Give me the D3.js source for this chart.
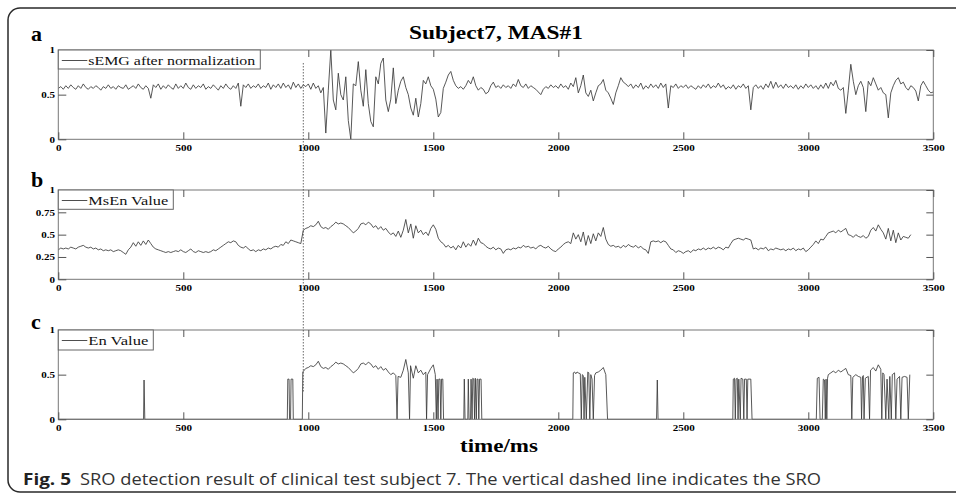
<!DOCTYPE html>
<html><head><meta charset="utf-8">
<script src="https://cdn.jsdelivr.net/npm/d3@7"></script>
<style>body{margin:0;background:#fff}svg{display:block}</style>
</head><body>
<svg id="c" width="956" height="494"></svg>
<script>
// ---------------- data ----------------
const semgStep = 10; // ms between samples
const semgValues = [
0.57,0.59,0.56,0.60,0.57,0.61,0.58,0.56,0.60,0.57,
0.62,0.58,0.56,0.59,0.57,0.60,0.58,0.55,0.59,0.57,
0.61,0.57,0.59,0.56,0.60,0.58,0.57,0.61,0.56,0.58,
0.60,0.57,0.62,0.58,0.56,0.60,0.57,0.46,0.61,0.58,
0.62,0.56,0.60,0.57,0.61,0.58,0.56,0.62,0.57,0.60,
0.57,0.63,0.58,0.56,0.61,0.57,0.60,0.58,0.62,0.56,
0.59,0.57,0.61,0.58,0.55,0.60,0.57,0.62,0.58,0.56,
0.60,0.57,0.63,0.37,0.61,0.58,0.62,0.57,0.60,0.58,
0.62,0.57,0.60,0.58,0.63,0.56,0.61,0.58,0.62,0.57,
0.63,0.58,0.61,0.56,0.64,0.58,0.62,0.57,0.61,0.59,
0.62,0.56,0.63,0.57,0.60,0.52,0.58,0.07,0.55,1.00,
0.44,0.33,0.74,0.50,0.44,0.70,0.21,0.00,0.62,0.60,
0.87,0.55,0.37,0.78,0.40,0.20,0.14,0.70,0.62,0.85,
0.91,0.44,0.31,0.45,0.80,0.40,0.55,0.65,0.70,0.58,
0.50,0.35,0.27,0.46,0.25,0.40,0.66,0.62,0.70,0.60,
0.56,0.45,0.25,0.30,0.57,0.64,0.72,0.76,0.66,0.60,
0.57,0.59,0.56,0.60,0.66,0.62,0.70,0.60,0.55,0.58,
0.56,0.51,0.53,0.60,0.64,0.58,0.60,0.57,0.61,0.58,
0.60,0.57,0.62,0.59,0.67,0.60,0.58,0.62,0.57,0.60,
0.58,0.56,0.53,0.50,0.56,0.59,0.57,0.61,0.58,0.60,
0.57,0.62,0.58,0.60,0.56,0.63,0.59,0.69,0.52,0.60,
0.72,0.52,0.48,0.55,0.43,0.52,0.60,0.62,0.67,0.55,
0.52,0.46,0.39,0.52,0.60,0.69,0.64,0.62,0.59,0.62,
0.57,0.61,0.58,0.63,0.56,0.60,0.57,0.62,0.58,0.61,
0.57,0.63,0.58,0.62,0.35,0.60,0.58,0.62,0.57,0.60,
0.58,0.61,0.57,0.60,0.58,0.56,0.60,0.57,0.61,0.58,
0.62,0.57,0.60,0.58,0.63,0.58,0.61,0.56,0.59,0.57,
0.61,0.56,0.60,0.58,0.62,0.57,0.60,0.33,0.58,0.61,
0.57,0.60,0.56,0.62,0.58,0.65,0.57,0.64,0.58,0.61,
0.57,0.62,0.58,0.60,0.57,0.61,0.56,0.60,0.57,0.62,
0.58,0.61,0.57,0.60,0.56,0.61,0.57,0.63,0.57,0.64,
0.60,0.66,0.57,0.55,0.58,0.29,0.55,0.84,0.65,0.50,
0.60,0.65,0.58,0.31,0.65,0.60,0.69,0.62,0.55,0.58,
0.52,0.50,0.24,0.52,0.60,0.66,0.69,0.62,0.64,0.58,
0.55,0.60,0.58,0.54,0.43,0.60,0.65,0.60,0.55,0.52,
0.53
];

const msenStep = 10;
const msenValues = [
0.33,0.35,0.34,0.35,0.34,0.36,0.35,0.34,0.36,0.37,
0.38,0.36,0.35,0.36,0.34,0.35,0.33,0.34,0.32,0.33,
0.32,0.33,0.31,0.32,0.33,0.32,0.30,0.28,0.33,0.36,
0.41,0.37,0.42,0.38,0.43,0.39,0.44,0.40,0.36,0.34,
0.33,0.32,0.31,0.30,0.31,0.30,0.31,0.32,0.31,0.33,
0.31,0.30,0.32,0.34,0.31,0.30,0.32,0.31,0.30,0.31,
0.30,0.31,0.33,0.32,0.34,0.36,0.38,0.40,0.42,0.41,
0.43,0.42,0.38,0.36,0.35,0.37,0.34,0.32,0.33,0.31,
0.33,0.32,0.34,0.33,0.35,0.34,0.36,0.37,0.36,0.39,
0.38,0.42,0.40,0.44,0.43,0.42,0.41,0.40,0.55,0.57,
0.58,0.60,0.59,0.61,0.65,0.59,0.57,0.58,0.56,0.59,
0.61,0.64,0.62,0.63,0.62,0.60,0.58,0.55,0.52,0.54,
0.57,0.62,0.63,0.61,0.64,0.62,0.58,0.60,0.56,0.59,
0.55,0.57,0.53,0.50,0.52,0.48,0.54,0.47,0.55,0.67,
0.52,0.62,0.46,0.60,0.52,0.55,0.50,0.53,0.49,0.57,
0.61,0.56,0.46,0.42,0.40,0.36,0.38,0.35,0.37,0.33,
0.38,0.35,0.42,0.36,0.40,0.37,0.44,0.38,0.46,0.41,
0.40,0.37,0.35,0.34,0.36,0.33,0.35,0.34,0.29,0.33,
0.34,0.33,0.35,0.34,0.36,0.35,0.38,0.36,0.37,0.35,
0.36,0.34,0.37,0.38,0.36,0.35,0.37,0.34,0.32,0.31,
0.34,0.36,0.39,0.41,0.42,0.40,0.52,0.45,0.50,0.42,
0.53,0.38,0.49,0.40,0.51,0.43,0.52,0.48,0.58,0.45,
0.39,0.37,0.38,0.36,0.37,0.35,0.38,0.36,0.39,0.37,
0.36,0.38,0.35,0.37,0.34,0.33,0.29,0.42,0.43,0.42,
0.43,0.41,0.43,0.42,0.38,0.34,0.33,0.30,0.32,0.31,
0.29,0.31,0.32,0.30,0.33,0.32,0.34,0.33,0.35,0.33,
0.35,0.34,0.36,0.34,0.36,0.35,0.33,0.36,0.35,0.40,
0.44,0.45,0.46,0.45,0.44,0.46,0.45,0.44,0.34,0.35,
0.33,0.35,0.34,0.36,0.32,0.34,0.33,0.35,0.34,0.33,
0.34,0.32,0.34,0.33,0.35,0.32,0.34,0.33,0.35,0.31,
0.33,0.36,0.39,0.43,0.40,0.45,0.44,0.48,0.52,0.53,
0.54,0.52,0.55,0.53,0.55,0.57,0.50,0.49,0.47,0.50,
0.48,0.47,0.49,0.46,0.48,0.55,0.58,0.54,0.61,0.56,
0.52,0.45,0.57,0.43,0.55,0.41,0.52,0.44,0.48,0.47,
0.46,0.50
];

// En value: [time ms, value] read at change points
const enPoints = [
[0,0],[341,0],[343,0.44],[346,0],
[916,0],[918,0.45],[923,0.45],[925,0],[929,0],[931,0.45],[938,0.45],[940,0],
[976,0],[978,0.53],[990,0.57],[1000,0.58],[1010,0.60],[1020,0.59],[1030,0.61],[1040,0.65],
[1050,0.59],[1060,0.57],[1070,0.58],[1080,0.56],[1090,0.59],[1100,0.61],[1110,0.64],[1120,0.62],
[1130,0.63],[1140,0.62],[1150,0.60],[1160,0.58],[1170,0.55],[1180,0.52],[1190,0.54],[1200,0.57],
[1210,0.62],[1220,0.63],[1230,0.61],[1240,0.64],[1250,0.62],[1260,0.58],[1270,0.60],[1280,0.56],
[1290,0.59],[1300,0.55],[1310,0.57],[1320,0.53],[1330,0.50],[1340,0.52],[1350,0.49],[1355,0],
[1359,0.48],[1370,0.47],[1380,0.55],[1390,0.67],[1400,0.52],[1405,0],[1409,0.60],[1420,0.46],
[1430,0.60],[1440,0.52],[1450,0.55],[1460,0.50],[1470,0.53],[1473,0],[1477,0.50],[1490,0.57],
[1500,0.61],[1508,0.50],[1512,0],[1515,0.45],[1519,0],[1522,0.45],[1527,0.45],[1530,0],
[1533,0.45],[1538,0.45],[1541,0],
[1622,0],[1624,0.45],[1627,0],[1638,0],[1640,0.45],[1643,0],[1649,0],[1651,0.45],[1655,0],
[1658,0.46],[1662,0.45],[1665,0],[1668,0.46],[1672,0],[1675,0.45],[1679,0.45],[1682,0],
[1685,0.45],[1691,0.45],[1694,0],
[2058,0],[2060,0.52],[2065,0.53],[2070,0.51],[2075,0.53],[2080,0.52],[2088,0.51],[2092,0],
[2096,0.50],[2100,0.49],[2103,0],[2106,0.47],[2112,0],[2118,0.53],[2122,0.52],[2126,0],
[2130,0.50],[2135,0.45],[2140,0],[2145,0.49],[2150,0.52],[2160,0.53],[2170,0.55],[2180,0.58],
[2190,0.50],[2197,0],
[2393,0],[2396,0.44],[2399,0],
[2698,0],[2700,0.45],[2705,0.46],[2708,0],[2711,0.45],[2716,0.46],[2719,0],[2722,0.45],
[2728,0],[2731,0.46],[2738,0.45],[2742,0],[2745,0.45],[2752,0.45],[2755,0],[2758,0.45],
[2770,0.45],[2775,0],
[3032,0],[3036,0.46],[3043,0.47],[3047,0],
[3056,0],[3060,0.45],[3065,0.44],[3068,0],[3071,0.45],[3074,0],[3077,0.46],[3080,0.50],
[3090,0.52],[3100,0.54],[3110,0.52],[3120,0.55],[3130,0.53],[3140,0.55],[3150,0.57],[3160,0.50],
[3170,0.49],[3174,0],[3178,0.47],[3190,0.50],[3200,0.48],[3210,0.47],[3213,0],[3217,0.48],
[3220,0.49],[3223,0],[3228,0.46],[3240,0.48],[3245,0],[3249,0.55],[3260,0.58],[3270,0.54],
[3280,0.61],[3290,0.56],[3294,0],[3298,0.52],[3303,0.50],[3310,0],[3315,0.45],[3322,0],
[3326,0.48],[3332,0],[3336,0.50],[3345,0.52],[3350,0],[3355,0.45],[3365,0.48],[3370,0],
[3375,0.47],[3385,0.48],[3395,0.47],[3400,0],[3406,0.50]
];

const xTicks = [0,500,1000,1500,2000,2500,3000,3500];
const yTicksA = [0,0.5,1];
const yTicksB = [0,0.25,0.5,0.75,1];
const yTicksC = [0,0.5,1];
const sroTime = 980;

const titleText = "Subject7, MAS#1";
const xLabelText = "time/ms";
const captionBold = "Fig. 5";
const captionText = "SRO detection result of clinical test subject 7. The vertical dashed line indicates the SRO";

// ---------------- drawing ----------------
const svg = d3.select("#c");
const X0 = 58.3, X1 = 933.3;
const stretch = 1.23;
const serif = "'Liberation Serif','Times New Roman',serif";
const x = d3.scaleLinear().domain([0, 3500]).range([X0, X1]);

svg.append("rect").attr("width",956).attr("height",494).attr("fill","#fff");
svg.append("path")
  .attr("d","M957,8H20A12,12 0 0 0 8,20V480A12,12 0 0 0 20,492H957")
  .attr("fill","none").attr("stroke","#2a2a2a").attr("stroke-width",1.5);

const semgData = semgValues.map((v,i)=>[i*semgStep, v]);
const msenData = msenValues.map((v,i)=>[i*msenStep, v]);

const panels = [
  {key:"a", top:50,  bottom:139.3, yTicks:yTicksA, legend:"sEMG after normalization", legendW:202, legendH:19, legendLen:167, letterY:41, data:semgData, fmt:d3.format("")},
  {key:"b", top:190, bottom:279.3, yTicks:yTicksB, legend:"MsEn Value", legendW:115, legendH:19.3, legendLen:80, letterY:187, data:msenData, fmt:d3.format("")},
  {key:"c", top:330, bottom:419.3, yTicks:yTicksC, legend:"En Value", legendW:95, legendH:20, legendLen:60, letterY:328.5, data:enPoints, fmt:d3.format("")}
];

function styleTicks(sel){
  sel.select(".domain").remove();
  sel.selectAll(".tick line").attr("stroke","#555").attr("stroke-width",1);
  sel.selectAll(".tick text").attr("fill","#000")
    .style("font-family",serif).style("font-weight","bold").style("font-size","9px");
}

panels.forEach(p=>{
  const y = d3.scaleLinear().domain([0,1]).range([p.bottom, p.top]);
  const g = svg.append("g");

  g.append("path").datum(p.data)
    .attr("fill","none").attr("stroke","#3a3a3a").attr("stroke-width",0.85)
    .attr("stroke-linejoin","round")
    .attr("d", d3.line().x(d=>x(d[0])).y(d=>y(d[1])));

  g.append("rect").attr("x",X0).attr("y",p.top).attr("width",X1-X0).attr("height",p.bottom-p.top)
    .attr("fill","none").attr("stroke","#777").attr("stroke-width",1);

  const gb = g.append("g").attr("transform",`translate(0,${p.bottom})`)
    .call(d3.axisBottom(x).tickValues(xTicks).tickSize(-7).tickPadding(5.6).tickFormat(d3.format("d")));
  styleTicks(gb);
  gb.selectAll(".tick text").attr("transform",`scale(${stretch},1)`);

  const gt = g.append("g").attr("transform",`translate(0,${p.top})`)
    .call(d3.axisTop(x).tickValues(xTicks).tickSize(-7).tickFormat(""));
  styleTicks(gt);

  const gl = g.append("g").attr("transform",`translate(${X0},0)`)
    .call(d3.axisLeft(y).tickValues(p.yTicks).tickSize(-8).tickPadding(3.3).tickFormat(d=>d3.format("")(d)));
  styleTicks(gl);
  gl.selectAll(".tick text").attr("x",-3.3/stretch).attr("transform",`scale(${stretch},1)`);

  const gr = g.append("g").attr("transform",`translate(${X1},0)`)
    .call(d3.axisRight(y).tickValues(p.yTicks).tickSize(-7).tickFormat(""));
  styleTicks(gr);

  // legend
  g.append("rect").attr("x",X0).attr("y",p.top).attr("width",p.legendW).attr("height",p.legendH)
    .attr("fill","#fff").attr("stroke","#666").attr("stroke-width",1);
  g.append("line").attr("x1",X0+3.5).attr("x2",X0+29).attr("y1",p.top+10.5).attr("y2",p.top+10.5)
    .attr("stroke","#3a3a3a").attr("stroke-width",0.9);
  g.append("text").attr("x",X0+30).attr("y",p.top+14.5).text(p.legend)
    .attr("textLength",p.legendLen).attr("lengthAdjust","spacingAndGlyphs")
    .style("font-family",serif).style("font-size","13px").attr("fill","#111");

  // panel letter
  svg.append("text").attr("x",31).attr("y",p.letterY).text(p.key)
    .style("font-family",serif).style("font-weight","bold").style("font-size","22px").attr("fill","#000");
});

// SRO dashed line
svg.append("line").attr("x1",x(sroTime)).attr("x2",x(sroTime)).attr("y1",63).attr("y2",393)
  .attr("stroke","#444").attr("stroke-width",0.8).attr("stroke-dasharray","1.5,1.5");

// title
svg.append("text").attr("x",409).attr("y",39.3).text(titleText)
  .attr("textLength",174).attr("lengthAdjust","spacingAndGlyphs")
  .style("font-family",serif).style("font-weight","bold").style("font-size","19px").attr("fill","#000");

// x label
svg.append("text").attr("x",460).attr("y",452).text(xLabelText)
  .attr("textLength",78).attr("lengthAdjust","spacingAndGlyphs")
  .style("font-family",serif).style("font-weight","bold").style("font-size","18.5px").attr("fill","#000");

// caption
svg.append("text").attr("x",23).attr("y",485).text(captionBold)
  .attr("textLength",48).attr("lengthAdjust","spacingAndGlyphs")
  .style("font-family","'Open Sans','Noto Sans',sans-serif").style("font-weight","bold").style("font-size","15.5px").attr("fill","#222");
svg.append("text").attr("x",80).attr("y",485).text(captionText)
  .attr("textLength",741).attr("lengthAdjust","spacingAndGlyphs")
  .style("font-family","'Open Sans','Noto Sans',sans-serif").style("font-size","15.5px").attr("fill","#333");
</script>
</body></html>
